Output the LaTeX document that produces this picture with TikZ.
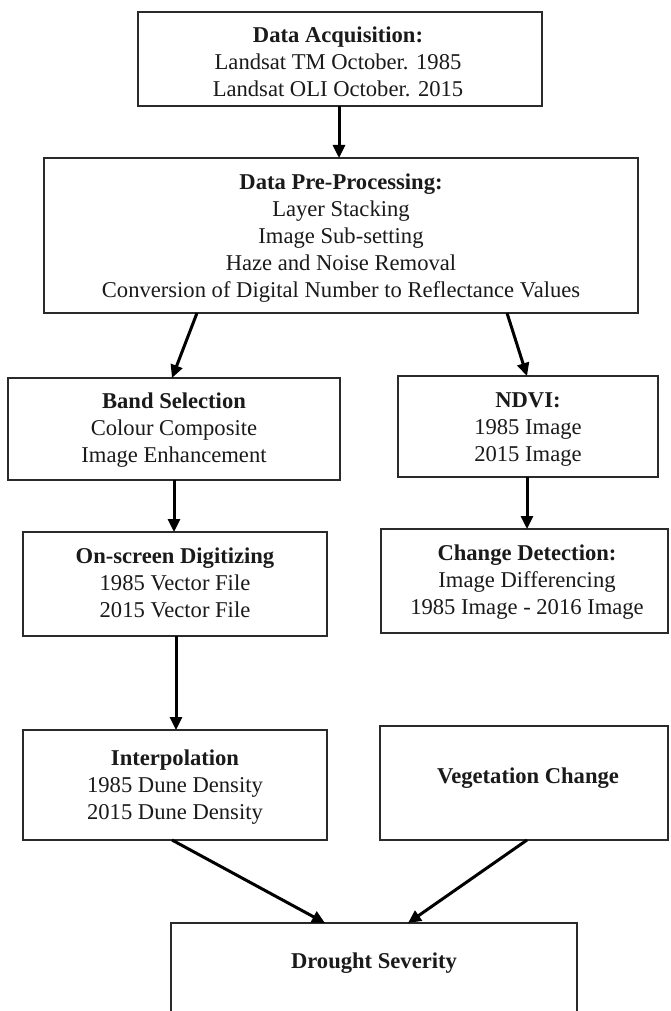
\documentclass[tikz,border=0pt]{standalone}
\usepackage{fontspec}
\setmainfont{Liberation Serif}
\usetikzlibrary{arrows.meta,calc}
\definecolor{boxline}{HTML}{2A2A2A}
\definecolor{ink}{HTML}{1A1A1A}
\begin{document}
\begin{tikzpicture}[x=1pt,y=-1pt,
  stepbox/.style={draw=boxline, line width=2pt, inner sep=0pt, outer sep=0pt, fill=white},
  txt/.style={align=center, inner sep=0pt, text=ink, font=\fontsize{22.6}{27}\selectfont},
  arr/.style={draw=black, line width=3pt, -{Triangle[length=13pt,width=12pt]}}]
\useasboundingbox (0,0) rectangle (671,1011);
\clip (0,0) rectangle (671,1011);

% boxes
\node[stepbox, minimum width=404pt, minimum height=94pt]  (acq)    at (340,59)    {};
\node[stepbox, minimum width=594pt, minimum height=155pt] (pre)    at (341,235.5) {};
\node[stepbox, minimum width=332pt, minimum height=102pt] (band)   at (174,429)   {};
\node[stepbox, minimum width=260pt, minimum height=101pt] (ndvi)   at (528,426.5) {};
\node[stepbox, minimum width=304pt, minimum height=104pt] (digit)  at (175,584)   {};
\node[stepbox, minimum width=287pt, minimum height=104pt] (change) at (524.5,581) {};
\node[stepbox, minimum width=304pt, minimum height=110pt] (interp) at (175,785)   {};
\node[stepbox, minimum width=288pt, minimum height=114pt] (veg)    at (524,783)   {};
\node[stepbox, minimum width=406pt, minimum height=127pt] (drought) at (374,986.5) {};

% box texts
\node[txt] (tacq) at (338,64.6) {\strut\textbf{Data Acquisition:}\\\strut Landsat TM October. 1985\\\strut Landsat OLI October. 2015};
\node[txt] (tpre) at (341,237.6) {\strut\textbf{Data Pre-Processing:}\\\strut Layer Stacking\\\strut Image Sub-setting\\\strut Haze and Noise Removal\\\strut Conversion of Digital Number to Reflectance Values};
\node[txt] (tband) at (174,429.6) {\strut\textbf{Band Selection}\\\strut Colour Composite\\\strut Image Enhancement};
\node[txt] (tndvi) at (528,428.6) {\strut\textbf{NDVI:}\\\strut 1985 Image\\\strut 2015 Image};
\node[txt] (tdigit) at (175,584.6) {\strut\textbf{On-screen Digitizing}\\\strut 1985 Vector File\\\strut 2015 Vector File};
\node[txt] (tchange) at (527,581.6) {\strut\textbf{Change Detection:}\\\strut Image Differencing\\\strut 1985 Image - 2016 Image};
\node[txt] (tinterp) at (175,786.6) {\strut\textbf{Interpolation}\\\strut 1985 Dune Density\\\strut 2015 Dune Density};
\node[txt] (tveg) at (528,777.6) {\strut\textbf{Vegetation Change}};
\node[txt] (tdrought) at (374,962.6) {\strut\textbf{Drought Severity}};

% connectors
\draw[arr] ([xshift=-1pt]acq.south) -- ([xshift=-2pt]pre.north);
\draw[arr] ([xshift=-144pt]pre.south) -- ([xshift=-2pt]band.north);
\draw[arr] ([xshift=166pt]pre.south) -- ([xshift=-1pt]ndvi.north);
\draw[arr] (band.south) -- (band.south |- digit.north);
\draw[arr] ([xshift=-1pt]ndvi.south) -- ([xshift=-1pt]ndvi.south |- change.north);
\draw[arr] ([xshift=1pt]digit.south) -- ([xshift=1pt]digit.south |- interp.north);
\draw[arr] ([xshift=-3pt]interp.south) -- ([xshift=-49pt]drought.north);
\draw[arr] ([xshift=3pt]veg.south) -- ([xshift=34pt]drought.north);
\end{tikzpicture}
\end{document}
